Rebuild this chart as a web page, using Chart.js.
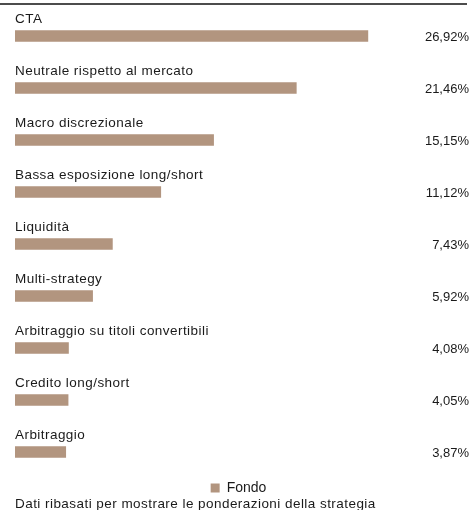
<!DOCTYPE html>
<html>
<head>
<meta charset="utf-8">
<script src="https://cdn.jsdelivr.net/npm/chart.js@4/dist/chart.umd.min.js"></script>
<style>
  html, body { margin: 0; padding: 0; background: #fff; overflow: hidden; }
  body { position: relative; width: 471px; height: 510px; font-family: "Liberation Sans", Arial, Helvetica, sans-serif; }
  .wrap { position: absolute; left: 0; top: 0; width: 471px; height: 505px; }
  .note { position: absolute; left: 15px; top: 496px; margin: 0; font-size: 13.5px; line-height: 16px; letter-spacing: 0.45px; color: #1a1a1a; white-space: nowrap; }
</style>
</head>
<body>
<div class="wrap"><canvas id="chart"></canvas></div>
<p class="note">Dati ribasati per mostrare le ponderazioni della strategia</p>
<script>
const categories = [
  "CTA",
  "Neutrale rispetto al mercato",
  "Macro discrezionale",
  "Bassa esposizione long/short",
  "Liquidità",
  "Multi-strategy",
  "Arbitraggio su titoli convertibili",
  "Credito long/short",
  "Arbitraggio",
];
const fondo = [26.92, 21.46, 15.15, 11.12, 7.43, 5.92, 4.08, 4.05, 3.87];

const FONT = '"Liberation Sans", Arial, Helvetica, sans-serif';
const TEXT = "#1a1a1a";
const BAR = "#b2957f";

function pct(v) {
  return v.toFixed(2).replace(".", ",") + "%";
}

// labels above each bar, values on the right, rule at the top
const rowText = {
  id: "rowText",
  afterDatasetsDraw(chart) {
    const { ctx, chartArea } = chart;
    const meta = chart.getDatasetMeta(0);
    ctx.save();
    ctx.strokeStyle = "#111";
    ctx.lineWidth = 1.5;
    ctx.beginPath();
    ctx.moveTo(0, 4);
    ctx.lineTo(467, 4);
    ctx.stroke();

    ctx.fillStyle = TEXT;
    meta.data.forEach((bar, i) => {
      ctx.font = "13.5px " + FONT;
      ctx.letterSpacing = "0.45px";
      ctx.textAlign = "left";
      ctx.textBaseline = "alphabetic";
      ctx.fillText(chart.data.labels[i], chartArea.left, bar.y - 13);
      ctx.font = "13px " + FONT;
      ctx.letterSpacing = "0px";
      ctx.textAlign = "right";
      ctx.textBaseline = "middle";
      ctx.fillText(pct(chart.data.datasets[0].data[i]), 469, bar.y + 1);
    });
    ctx.restore();
  },
};

new Chart(document.getElementById("chart"), {
  type: "bar",
  data: {
    labels: categories,
    datasets: [
      {
        label: "Fondo",
        data: fondo,
        backgroundColor: BAR,
        borderWidth: 0,
        barThickness: 11,
      },
    ],
  },
  options: {
    indexAxis: "y",
    responsive: true,
    maintainAspectRatio: false,
    animation: false,
    layout: { padding: { top: 10, left: 15, right: 9, bottom: 0 } },
    scales: {
      x: { display: false, min: 0, max: 34.1 },
      y: { display: false },
    },
    plugins: {
      tooltip: { enabled: false },
      legend: {
        position: "bottom",
        labels: {
          boxWidth: 9,
          boxHeight: 9,
          padding: 3,
          color: TEXT,
          font: { family: FONT, size: 14 },
        },
      },
    },
  },
  plugins: [rowText],
});
</script>
</body>
</html>
